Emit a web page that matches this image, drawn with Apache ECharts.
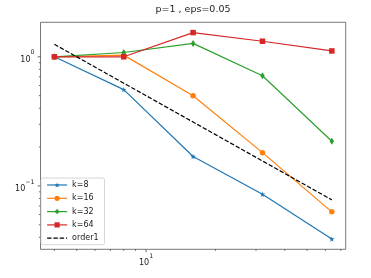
<!DOCTYPE html>
<html><head><meta charset="utf-8">
<script src="https://cdn.jsdelivr.net/npm/echarts@6/dist/echarts.min.js"></script>
<style>html,body{margin:0;padding:0;background:#fff}#c{width:371px;height:278px}</style>
</head><body><div id="c"></div>
<script>
const titleText = 'p=1 , eps=0.05';
const xValues = [4, 8, 16, 32, 64];
const k8 = [1.0, 0.557, 0.169, 0.0863, 0.0388];
const k16 = [1.0, 1.03, 0.50, 0.181, 0.063];
const k32 = [1.0, 1.08, 1.27, 0.714, 0.222];
const k64 = [1.0, 1.0, 1.54, 1.32, 1.11];
const order1 = [1.25, 0.625, 0.3125, 0.156, 0.078];
const seriesNames = ['k=8', 'k=16', 'k=32', 'k=64', 'order1'];
const X_MIN = 3.482, X_MAX = 73.52, Y_MIN = 0.0323, Y_MAX = 1.85;
const xMajorTicks = [10];
const xMinorTicks = [4, 5, 6, 7, 8, 9, 20, 30, 40, 50, 60, 70];
const yMajorTicks = [0.1, 1];
const yMinorTicks = [0.04, 0.05, 0.06, 0.07, 0.08, 0.09, 0.2, 0.3, 0.4, 0.5, 0.6, 0.7, 0.8, 0.9];

const FONT = 'DejaVu Sans';
const DASH = [4.4, 1.9];
const pairs = ys => xValues.map((x, i) => [x, ys[i]]);
const tickData = [];
xMajorTicks.forEach(v => tickData.push([v, Y_MIN, 0, 2.8]));
xMinorTicks.forEach(v => tickData.push([v, Y_MIN, 0, 1.6]));
yMajorTicks.forEach(v => tickData.push([X_MIN, v, 1, 2.8]));
yMinorTicks.forEach(v => tickData.push([X_MIN, v, 1, 1.6]));

const supFmt = v => {
  const l = Math.log10(v), r = Math.round(l);
  if (Math.abs(l - r) > 1e-6) return '';
  return '{b|10}{s|' + String(r).replace('-', '\u2212') + '}';
};
const labelRich = {
  b: {fontSize: 8, fontFamily: FONT, color: '#222', lineHeight: 14, verticalAlign: 'bottom'},
  s: {fontSize: 6.3, fontFamily: FONT, color: '#222', lineHeight: 8.5, verticalAlign: 'top'}
};
const star = 'path://M0,-10 L2.35,-3.24 L9.51,-3.09 L3.8,1.24 L5.88,8.09 L0,4 L-5.88,8.09 L-3.8,1.24 L-9.51,-3.09 L-2.35,-3.24 Z';
const lw = 1.2;

const legendData = seriesNames.map(n => n === 'order1'
  ? {name: n, itemStyle: {opacity: 0}, lineStyle: {type: DASH, width: lw, color: '#000'}}
  : {name: n});

const chart = echarts.init(document.getElementById('c'), null, {renderer: 'canvas'});
chart.setOption({
  animation: false,
  backgroundColor: '#fff',
  title: {text: titleText, left: 193, textAlign: 'center', top: 5, padding: 0,
    textStyle: {fontFamily: FONT, fontSize: 9.5, fontWeight: 'normal', color: '#222'}},
  grid: {left: 40.5, right: 25.3, top: 22.3, bottom: 28.7, show: true, borderColor: '#555', borderWidth: 0.8, backgroundColor: 'transparent'},
  xAxis: {type: 'log', logBase: 10, min: X_MIN, max: X_MAX,
    axisLine: {show: false}, axisTick: {show: false}, splitLine: {show: false},
    axisLabel: {formatter: supFmt, rich: labelRich, margin: 4, showMinLabel: false, showMaxLabel: false}},
  yAxis: {type: 'log', logBase: 10, min: Y_MIN, max: Y_MAX,
    axisLine: {show: false}, axisTick: {show: false}, splitLine: {show: false},
    axisLabel: {formatter: supFmt, rich: labelRich, margin: 6, showMinLabel: false, showMaxLabel: false}},
  legend: {
    orient: 'vertical', left: 41, top: 178, padding: [2.5, 6, 2, 5.5], itemGap: 4.3,
    itemWidth: 20, itemHeight: 6.5, backgroundColor: '#fff', borderColor: '#ccc', borderWidth: 0.8, borderRadius: 2,
    lineStyle: {width: lw},
    textStyle: {fontFamily: FONT, fontSize: 8, color: '#222', lineHeight: 9},
    data: legendData
  },
  series: [
    {name: seriesNames[0], type: 'line', data: pairs(k8), symbol: star, symbolSize: 5.5,
      itemStyle: {color: '#1f77b4'}, lineStyle: {width: lw, color: '#1f77b4'}},
    {name: seriesNames[1], type: 'line', data: pairs(k16), symbol: 'circle', symbolSize: 5.5,
      itemStyle: {color: '#ff7f0e'}, lineStyle: {width: lw, color: '#ff7f0e'}},
    {name: seriesNames[2], type: 'line', data: pairs(k32), symbol: 'diamond', symbolSize: [4.5, 7],
      itemStyle: {color: '#2ca02c'}, lineStyle: {width: lw, color: '#2ca02c'}},
    {name: seriesNames[3], type: 'line', data: pairs(k64), symbol: 'rect', symbolSize: 5.5,
      itemStyle: {color: '#d62728'}, lineStyle: {width: lw, color: '#d62728'}},
    {name: seriesNames[4], type: 'line', data: pairs(order1), symbol: 'none',
      itemStyle: {color: '#000'}, lineStyle: {width: lw, color: '#000', type: DASH}},
    {name: 'ticks', type: 'custom', data: tickData, encode: {x: 0, y: 1}, clip: false, silent: true,
      renderItem: (params, api) => {
        const p = api.coord([api.value(0), api.value(1)]);
        const dir = api.value(2), len = api.value(3);
        const shape = dir === 0
          ? {x1: p[0], y1: p[1], x2: p[0], y2: p[1] + len}
          : {x1: p[0], y1: p[1], x2: p[0] - len, y2: p[1]};
        return {type: 'line', shape: shape, style: {stroke: '#444', lineWidth: 0.8}};
      }}
  ]
});
</script></body></html>
